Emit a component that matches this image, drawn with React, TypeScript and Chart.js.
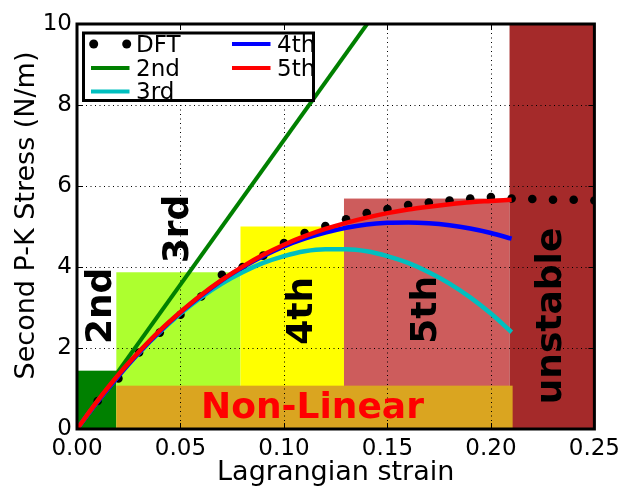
import React, { useEffect, useRef } from "react";
import { Chart, registerables } from "chart.js";

Chart.register(...registerables);

// ---- data ----
const dftStrain = [0.01, 0.02, 0.03, 0.04, 0.05, 0.06, 0.07, 0.08, 0.09, 0.1, 0.11, 0.12, 0.13, 0.14, 0.15, 0.16, 0.17, 0.18, 0.19, 0.2, 0.21, 0.22, 0.23, 0.24, 0.25];
const dftStress = [0.69, 1.25, 1.89, 2.38, 2.82, 3.27, 3.81, 4.0, 4.28, 4.59, 4.84, 5.01, 5.18, 5.33, 5.43, 5.53, 5.59, 5.64, 5.69, 5.73, 5.69, 5.68, 5.66, 5.66, 5.64];

const fitStrain = [0, 0.01, 0.02, 0.03, 0.04, 0.05, 0.06, 0.07, 0.08, 0.09, 0.1, 0.11, 0.12, 0.13, 0.14, 0.15, 0.16, 0.17, 0.18, 0.19, 0.2, 0.21];
const thirdStress = [0, 0.68, 1.31, 1.88, 2.39, 2.85, 3.25, 3.59, 3.87, 4.1, 4.27, 4.39, 4.44, 4.44, 4.39, 4.27, 4.1, 3.87, 3.59, 3.25, 2.85, 2.39];
const fourthStress = [0, 0.68, 1.31, 1.89, 2.41, 2.88, 3.29, 3.67, 3.99, 4.27, 4.51, 4.7, 4.85, 4.97, 5.05, 5.09, 5.1, 5.08, 5.03, 4.95, 4.84, 4.7];
const fifthStress = [0, 0.7, 1.34, 1.91, 2.43, 2.89, 3.31, 3.68, 4.01, 4.3, 4.55, 4.76, 4.94, 5.09, 5.22, 5.33, 5.42, 5.49, 5.55, 5.6, 5.63, 5.66];

const secondStrain = [0, 0.15];
const secondStress = [0, 10.7];

const seriesNames = ["DFT", "2nd", "3rd", "4th", "5th"];

const xTicks = [0, 0.05, 0.1, 0.15, 0.2, 0.25];
const yTicks = [0, 2, 4, 6, 8, 10];

// regions (strain ranges and stress heights)
const regionNames = ["2nd", "3rd", "4th", "5th", "unstable"];
const regionStart = [0, 0.019, 0.079, 0.129, 0.209];
const regionEnd = [0.019, 0.079, 0.129, 0.209, 0.25];
const regionTop = [1.44, 3.87, 5.0, 5.69, 10];
const nonLinearName = "Non-Linear";
const nonLinearRange = [0.019, 0.2105];
const nonLinearTop = 1.07;

// annotation anchors (data units)
const regionLabelStrain = [0.0165, 0.0534, 0.1136, 0.1733, 0.2339];
const regionLabelStress = [3.04, 4.94, 2.92, 2.94, 2.79];
const nonLinearLabelStrain = 0.1138;
const nonLinearLabelStress = 0.27;

const xTitle = "Lagrangian strain";
const yTitle = "Second P-K Stress (N/m)";

// ---- styles ----
const regionColors = ["#008000", "#adff2f", "#ffff00", "#cd5c5c", "#a52a2a"];
const nonLinearColor = "#daa520";
const lineColors = ["#000000", "#008000", "#00bfbf", "#0000ff", "#ff0000"];
const FONT = "'DejaVu Sans', 'Liberation Sans', sans-serif";

const pts = (xs: number[], ys: number[]) => xs.map((x, i) => ({ x, y: ys[i] }));

const backgroundPlugin = {
  id: "regions",
  beforeDatasetsDraw(chart: any) {
    const { ctx, chartArea } = chart;
    const xs = chart.scales.x;
    const ys = chart.scales.y;
    ctx.save();
    ctx.beginPath();
    ctx.rect(chartArea.left, chartArea.top, chartArea.right - chartArea.left, chartArea.bottom - chartArea.top);
    ctx.clip();
    // regions
    regionNames.forEach((_, i) => {
      const x0 = xs.getPixelForValue(regionStart[i]);
      const x1 = xs.getPixelForValue(regionEnd[i]);
      const y0 = ys.getPixelForValue(0);
      const y1 = ys.getPixelForValue(regionTop[i]);
      ctx.fillStyle = regionColors[i];
      ctx.fillRect(x0, y1, x1 - x0, y0 - y1);
    });
    {
      const x0 = xs.getPixelForValue(nonLinearRange[0]);
      const x1 = xs.getPixelForValue(nonLinearRange[1]);
      const y0 = ys.getPixelForValue(0);
      const y1 = ys.getPixelForValue(nonLinearTop);
      ctx.fillStyle = nonLinearColor;
      ctx.fillRect(x0, y1, x1 - x0, y0 - y1);
    }
    // grid
    ctx.strokeStyle = "#000";
    ctx.lineWidth = 1;
    ctx.setLineDash([1, 3.5]);
    xTicks.forEach((t) => {
      const px = Math.round(xs.getPixelForValue(t)) + 0.5;
      ctx.beginPath();
      ctx.moveTo(px, chartArea.top);
      ctx.lineTo(px, chartArea.bottom);
      ctx.stroke();
    });
    yTicks.forEach((t) => {
      const py = Math.round(ys.getPixelForValue(t)) + 0.5;
      ctx.beginPath();
      ctx.moveTo(chartArea.left, py);
      ctx.lineTo(chartArea.right, py);
      ctx.stroke();
    });
    ctx.setLineDash([]);
    // region labels
    ctx.fillStyle = "#000";
    ctx.font = `bold 36px ${FONT}`;
    ctx.textAlign = "center";
    ctx.textBaseline = "alphabetic";
    regionNames.forEach((name, i) => {
      ctx.save();
      ctx.translate(xs.getPixelForValue(regionLabelStrain[i]), ys.getPixelForValue(regionLabelStress[i]));
      ctx.rotate(-Math.PI / 2);
      ctx.fillText(name, 0, 0);
      ctx.restore();
    });
    ctx.fillStyle = "#ff0000";
    ctx.fillText(nonLinearName, xs.getPixelForValue(nonLinearLabelStrain), ys.getPixelForValue(nonLinearLabelStress));
    ctx.restore();
  },
  afterDatasetsDraw(chart: any) {
    const { ctx, chartArea } = chart;
    const xs = chart.scales.x;
    const ys = chart.scales.y;
    ctx.save();
    // ticks inside, all four sides
    ctx.strokeStyle = "#000";
    ctx.lineWidth = 1;
    const tl = 6;
    xTicks.forEach((t) => {
      const px = Math.round(xs.getPixelForValue(t)) + 0.5;
      ctx.beginPath();
      ctx.moveTo(px, chartArea.bottom);
      ctx.lineTo(px, chartArea.bottom - tl);
      ctx.moveTo(px, chartArea.top);
      ctx.lineTo(px, chartArea.top + tl);
      ctx.stroke();
    });
    yTicks.forEach((t) => {
      const py = Math.round(ys.getPixelForValue(t)) + 0.5;
      ctx.beginPath();
      ctx.moveTo(chartArea.left, py);
      ctx.lineTo(chartArea.left + tl, py);
      ctx.moveTo(chartArea.right, py);
      ctx.lineTo(chartArea.right - tl, py);
      ctx.stroke();
    });
    // frame
    ctx.lineWidth = 3;
    ctx.strokeRect(chartArea.left, chartArea.top, chartArea.right - chartArea.left, chartArea.bottom - chartArea.top);

    // legend
    const bx = 83.5, by = 33, bw = 230, bh = 67.5;
    ctx.fillStyle = "#fff";
    ctx.fillRect(bx, by, bw, bh);
    ctx.font = `23px ${FONT}`;
    ctx.textAlign = "left";
    ctx.textBaseline = "alphabetic";
    const cols = [91, 232];
    const rowsY = [44, 68, 91.5];
    const baseY = [52, 75.6, 99.2];
    const slots = [
      [0, 0],
      [0, 1],
      [0, 2],
      [1, 0],
      [1, 1],
    ];
    seriesNames.forEach((name, i) => {
      const [c, r] = slots[i];
      const x0 = cols[c];
      const y = rowsY[r];
      if (i === 0) {
        ctx.fillStyle = lineColors[0];
        [x0 + 2.7, x0 + 35.7].forEach((cx) => {
          ctx.beginPath();
          ctx.arc(cx, y, 4.5, 0, Math.PI * 2);
          ctx.fill();
        });
      } else {
        ctx.strokeStyle = lineColors[i];
        ctx.lineWidth = 4;
        ctx.beginPath();
        ctx.moveTo(x0, y);
        ctx.lineTo(x0 + 38.5, y);
        ctx.stroke();
      }
      ctx.fillStyle = "#000";
      ctx.fillText(name, x0 + 45, baseY[r]);
    });
    ctx.strokeStyle = "#000";
    ctx.lineWidth = 3;
    ctx.strokeRect(bx, by, bw, bh);

    // axis titles
    ctx.fillStyle = "#000";
    ctx.font = `27px ${FONT}`;
    ctx.textAlign = "center";
    ctx.textBaseline = "alphabetic";
    ctx.fillText(xTitle, (chartArea.left + chartArea.right) / 2, 480);
    ctx.save();
    ctx.translate(33.5, 215.5);
    ctx.rotate(-Math.PI / 2);
    ctx.fillText(yTitle, 0, 0);
    ctx.restore();
    ctx.restore();
  },
};

export default function App() {
  const ref = useRef<HTMLCanvasElement | null>(null);
  useEffect(() => {
    if (!ref.current) return;
    const chart = new Chart(ref.current, {
      type: "scatter",
      data: {
        datasets: [
          {
            label: seriesNames[0],
            data: pts(dftStrain, dftStress),
            showLine: false,
            pointRadius: 4.3,
            pointBackgroundColor: lineColors[0],
            pointBorderWidth: 0,
            order: 5,
          },
          {
            label: seriesNames[1],
            data: pts(secondStrain, secondStress),
            showLine: true,
            borderColor: lineColors[1],
            borderWidth: 4,
            pointRadius: 0,
            order: 4,
          },
          {
            label: seriesNames[2],
            data: pts(fitStrain, thirdStress),
            showLine: true,
            borderColor: lineColors[2],
            borderWidth: 4.5,
            pointRadius: 0,
            cubicInterpolationMode: "monotone",
            order: 3,
          },
          {
            label: seriesNames[3],
            data: pts(fitStrain, fourthStress),
            showLine: true,
            borderColor: lineColors[3],
            borderWidth: 4.5,
            pointRadius: 0,
            cubicInterpolationMode: "monotone",
            order: 2,
          },
          {
            label: seriesNames[4],
            data: pts(fitStrain, fifthStress),
            showLine: true,
            borderColor: lineColors[4],
            borderWidth: 4.5,
            pointRadius: 0,
            cubicInterpolationMode: "monotone",
            order: 1,
          },
        ],
      },
      options: {
        animation: false,
        responsive: false,
        devicePixelRatio: 1,
        layout: { padding: { top: 24, right: 30, left: 0, bottom: 0 } },
        plugins: { legend: { display: false }, tooltip: { enabled: false } },
        scales: {
          x: {
            type: "linear",
            min: 0,
            max: 0.25,
            grid: { display: false, drawTicks: false },
            border: { display: false },
            afterFit: (s: any) => {
              s.height = 58;
            },
            afterBuildTicks: (s: any) => {
              s.ticks = xTicks.map((v) => ({ value: v }));
            },
            ticks: {
              padding: 6,
              color: "#000",
              font: { family: FONT, size: 23 },
              maxRotation: 0,
              autoSkip: false,
              callback: (v: any) => Number(v).toFixed(2),
            },
          },
          y: {
            type: "linear",
            min: 0,
            max: 10,
            grid: { display: false, drawTicks: false },
            border: { display: false },
            afterFit: (s: any) => {
              s.width = 77;
            },
            afterBuildTicks: (s: any) => {
              s.ticks = yTicks.map((v) => ({ value: v }));
            },
            ticks: {
              padding: 5,
              color: "#000",
              font: { family: FONT, size: 23 },
              autoSkip: false,
              callback: (v: any) => String(Math.round(Number(v))),
            },
          },
        },
      },
      plugins: [backgroundPlugin],
    } as any);
    return () => chart.destroy();
  }, []);
  return (
    <div style={{ position: "absolute", left: 0, top: 0, width: 626, height: 487, background: "#fff" }}>
      <canvas ref={ref} width={626} height={487} style={{ display: "block" }} />
    </div>
  );
}
